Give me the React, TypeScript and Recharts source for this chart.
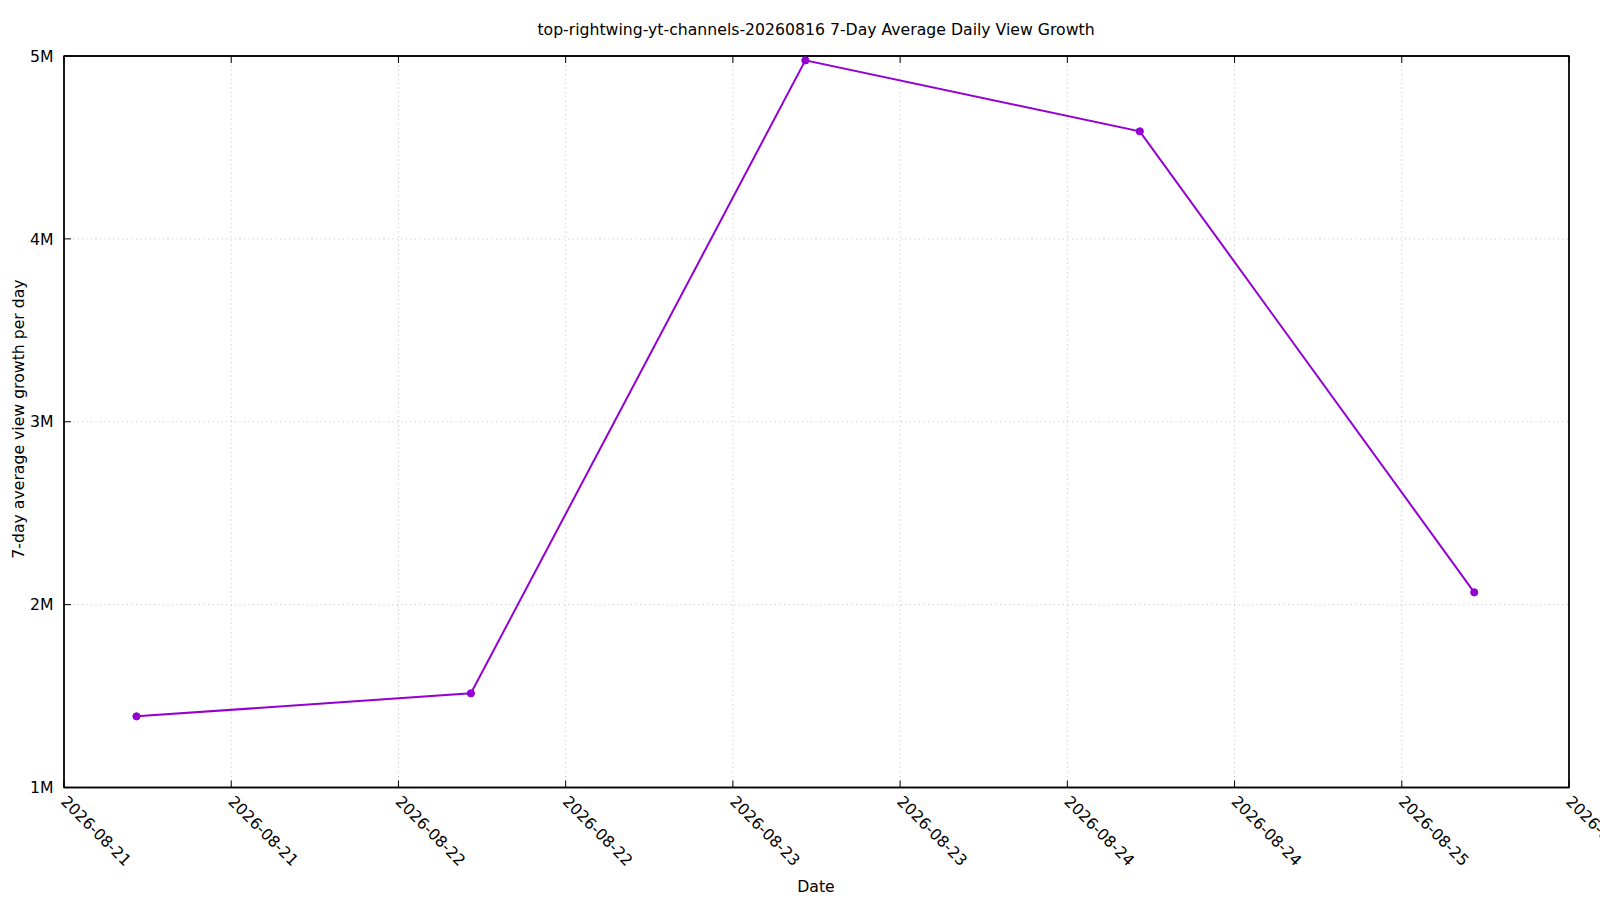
import React from "react";
import { CartesianGrid, Line, LineChart, ReferenceArea, XAxis, YAxis } from "recharts";

// gnuplot-style time series: one point per day, x measured in hours from the axis start.
const AXIS_START = "2026-08-21T00:00";
const POINT_TIMES = [
  "2026-08-21T05:12",
  "2026-08-22T05:12",
  "2026-08-23T05:12",
  "2026-08-24T05:12",
  "2026-08-25T05:12",
];
const GROWTH_VALUES = [1389000, 1515000, 4976000, 4588000, 2067000];

const X_TICK_HOURS = [0, 12, 24, 36, 48, 60, 72, 84, 96, 108];
const X_TICK_LABELS = [
  "2026-08-21",
  "2026-08-21",
  "2026-08-22",
  "2026-08-22",
  "2026-08-23",
  "2026-08-23",
  "2026-08-24",
  "2026-08-24",
  "2026-08-25",
  "2026-08-25",
];
const Y_TICKS = [1000000, 2000000, 3000000, 4000000, 5000000];
const Y_TICK_LABELS = ["1M", "2M", "3M", "4M", "5M"];

const TITLE = "top-rightwing-yt-channels-20260816 7-Day Average Daily View Growth";
const X_LABEL = "Date";
const Y_LABEL = "7-day average view growth per day";

const FONT = "'DejaVu Sans', sans-serif";
const FONT_SIZE = 15.7;
const LINE_COLOR = "#9400d3";
const TICK_LEN = 7;

const startMs = new Date(AXIS_START).getTime();
const data = POINT_TIMES.map((t, i) => ({
  hours: (new Date(t).getTime() - startMs) / 3600000,
  value: GROWTH_VALUES[i],
}));

function labelFor(list: number[], labels: string[], v: number) {
  const i = list.indexOf(v);
  return i >= 0 ? labels[i] : "";
}

const BottomTick = (props: any) => {
  const { x, y, payload } = props;
  const tx = x - 4;
  const ty = y + 15;
  return (
    <g>
      <line x1={x} y1={y} x2={x} y2={y - TICK_LEN} stroke="#000" strokeWidth={1} />
      <text
        x={tx}
        y={ty}
        transform={`rotate(45 ${tx} ${ty})`}
        textAnchor="start"
        fontFamily={FONT}
        fontSize={FONT_SIZE}
        fill="#000"
      >
        {labelFor(X_TICK_HOURS, X_TICK_LABELS, payload.value)}
      </text>
    </g>
  );
};

const TopTick = (props: any) => {
  const { x, y } = props;
  return <line x1={x} y1={y} x2={x} y2={y + TICK_LEN} stroke="#000" strokeWidth={1} />;
};

const LeftTick = (props: any) => {
  const { x, y, payload } = props;
  return (
    <g>
      <line x1={x} y1={y} x2={x + TICK_LEN} y2={y} stroke="#000" strokeWidth={1} />
      <text
        x={x - 10.5}
        y={y}
        dy="0.36em"
        textAnchor="end"
        fontFamily={FONT}
        fontSize={FONT_SIZE}
        fill="#000"
      >
        {labelFor(Y_TICKS, Y_TICK_LABELS, payload.value)}
      </text>
    </g>
  );
};

const RightTick = (props: any) => {
  const { x, y } = props;
  return <line x1={x} y1={y} x2={x - TICK_LEN} y2={y} stroke="#000" strokeWidth={1} />;
};

const textStyle: React.CSSProperties = {
  position: "absolute",
  fontFamily: FONT,
  fontSize: FONT_SIZE,
  color: "#000",
  whiteSpace: "nowrap",
  lineHeight: 1,
};

export default function App() {
  return (
    <div style={{ position: "absolute", left: 0, top: 0, width: 1600, height: 900, background: "#fff" }}>
      <LineChart width={1600} height={900} data={data} margin={{ top: 55, right: 30, bottom: 0, left: 0 }}>
        <CartesianGrid stroke="#c0c0c0" strokeDasharray="1 3.5" />
        <XAxis
          dataKey="hours"
          type="number"
          domain={[0, 108]}
          ticks={X_TICK_HOURS}
          height={112.5}
          tickSize={0}
          tickMargin={0}
          tickLine={false}
          axisLine={{ stroke: "#000", strokeWidth: 1.3 }}
          tick={<BottomTick />}
          interval={0}
        />
        <XAxis
          xAxisId="top"
          orientation="top"
          dataKey="hours"
          type="number"
          domain={[0, 108]}
          ticks={X_TICK_HOURS}
          height={1}
          tickSize={0}
          tickMargin={0}
          tickLine={false}
          axisLine={{ stroke: "#000", strokeWidth: 1.3 }}
          tick={<TopTick />}
          interval={0}
        />
        <YAxis
          type="number"
          domain={[1000000, 5000000]}
          ticks={Y_TICKS}
          width={64}
          tickSize={0}
          tickMargin={0}
          tickLine={false}
          axisLine={{ stroke: "#000", strokeWidth: 1.3 }}
          tick={<LeftTick />}
          interval={0}
        />
        <YAxis
          yAxisId="right"
          orientation="right"
          type="number"
          domain={[1000000, 5000000]}
          ticks={Y_TICKS}
          width={1}
          tickSize={0}
          tickMargin={0}
          tickLine={false}
          axisLine={{ stroke: "#000", strokeWidth: 1.3 }}
          tick={<RightTick />}
          interval={0}
        />
        <ReferenceArea
          x1={0}
          x2={108}
          y1={1000000}
          y2={5000000}
          fill="none"
          fillOpacity={0}
          stroke="#000"
          strokeWidth={1.3}
        />
        <Line
          dataKey="value"
          stroke={LINE_COLOR}
          strokeWidth={2}
          dot={{ r: 3.6, fill: LINE_COLOR, stroke: LINE_COLOR, strokeWidth: 1 }}
          activeDot={false}
          isAnimationActive={false}
        />
      </LineChart>
      <div style={{ ...textStyle, left: 816, top: 29.5, transform: "translate(-50%, -50%)" }}>{TITLE}</div>
      <div style={{ ...textStyle, left: 816, top: 887, transform: "translate(-50%, -50%)" }}>{X_LABEL}</div>
      <div style={{ ...textStyle, left: 18.5, top: 419, transform: "translate(-50%, -50%) rotate(-90deg)" }}>
        {Y_LABEL}
      </div>
    </div>
  );
}
